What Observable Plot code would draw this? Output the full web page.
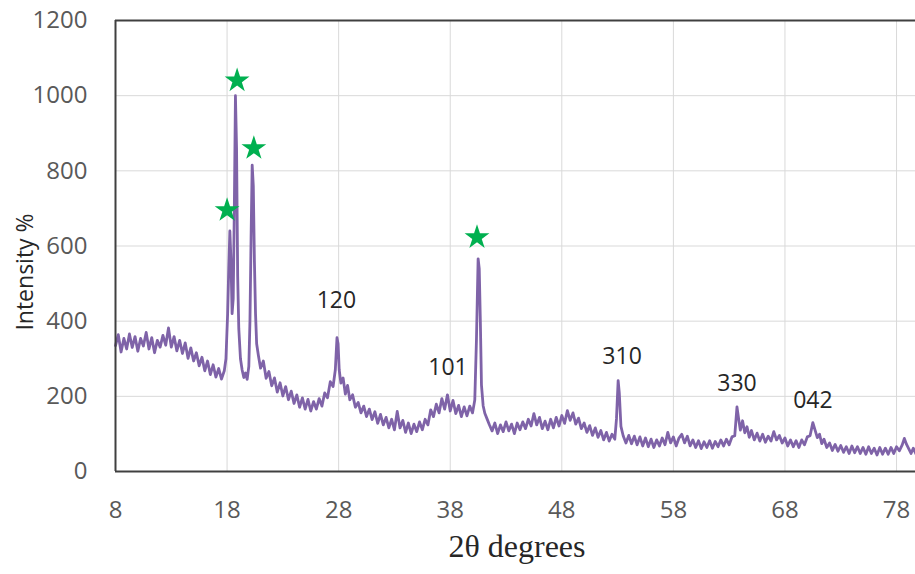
<!DOCTYPE html>
<html>
<head>
<meta charset="utf-8">
<script src="https://cdn.jsdelivr.net/npm/d3@7"></script>
<script src="https://cdn.jsdelivr.net/npm/@observablehq/plot@0.6"></script>
<style>
  html, body { margin: 0; padding: 0; background: #fff; }
  #chart svg { display: block; }
</style>
</head>
<body>
<div id="chart"></div>
<script>
// ---- data (2θ in degrees, intensity) ----
const patternA = [
  [8.00,335],[8.25,364],[8.5,318],[8.75,354],[9.0,326],[9.25,366],[9.5,330],[9.75,359],
  [10.0,320],[10.25,354],[10.5,334],[10.75,370],[11.0,326],[11.25,356],[11.5,316],[11.75,349],
  [12.0,331],[12.25,362],[12.5,336],[12.75,382],[13.0,331],[13.25,359],[13.5,321],[13.75,349],
  [14.0,314],[14.25,342],[14.5,301],[14.75,329],[15.0,294],[15.25,316],[15.5,281],[15.75,304],
  [16.0,268],[16.25,294],[16.5,258],[16.75,284],[17.0,251],[17.25,274],[17.5,246],[17.75,268]
];
const patternB = [
  [17.9,300],[18.05,420],[18.15,540],[18.25,640],[18.35,560],[18.45,420],[18.55,460],[18.65,700],
  [18.75,1000],[18.85,860],[18.95,520],[19.05,380],[19.2,300],[19.35,270],[19.5,250],[19.65,262],
  [19.8,245],[19.95,280],[20.05,400],[20.15,620],[20.25,815],[20.35,760],[20.45,560],[20.55,420],
  [20.65,340],[20.8,310],[21.0,275],[21.25,294],[21.5,248],[21.75,266],[22.0,228],[22.25,249],
  [22.5,211],[22.75,236],[23.0,201],[23.25,226],[23.5,191],[23.75,214],[24.0,181],[24.25,204],
  [24.5,171],[24.75,196],[25.0,166],[25.25,192],[25.5,161],[25.75,186],[26.0,166],[26.25,194],
  [26.5,174],[26.75,209],[27.0,196],[27.25,239],[27.5,226],[27.7,270],[27.85,356],[27.95,340],
  [28.05,270],[28.2,235],[28.4,249],[28.6,206],[28.8,229],[29.0,191],[29.25,204],[29.5,171],
  [29.75,184],[30.0,156],[30.25,174],[30.5,146],[30.75,166],[31.0,138],[31.25,159],[31.5,128],
  [31.75,152],[32.0,124],[32.25,144],[32.5,116],[32.75,139],[33.0,111],[33.25,160],[33.5,116],
  [33.75,136],[34.0,104],[34.25,129],[34.5,101],[34.75,126],[35.0,106],[35.25,132],[35.5,111]
];
const patternC = [
  [35.75,139],[36.0,124],[36.25,164],[36.5,146],[36.75,179],[37.0,156],[37.25,194],[37.5,166],
  [37.75,204],[38.0,161],[38.25,189],[38.5,154],[38.75,176],[39.0,146],[39.25,172],[39.5,148],
  [39.75,174],[40.0,156],[40.2,190],[40.35,350],[40.5,566],[40.6,540],[40.7,400],[40.8,230],
  [40.95,175],[41.1,155],[41.3,140],[41.5,125],[41.75,108],[42.0,129],[42.25,101],[42.5,124],
  [42.75,106],[43.0,132],[43.25,108],[43.5,126],[43.75,101],[44.0,129],[44.25,111],[44.5,132],
  [44.75,114],[45.0,139],[45.25,121],[45.5,154],[45.75,124],[46.0,144],[46.25,114],[46.5,134],
  [46.75,111],[47.0,139],[47.25,116],[47.5,144],[47.75,121],[48.0,149],[48.25,128],[48.5,162],
  [48.75,136],[49.0,156],[49.25,126],[49.5,142],[49.75,114],[50.0,129],[50.25,104],[50.5,122],
  [50.75,96],[51.0,116],[51.25,91],[51.5,109],[51.75,84],[52.0,104],[52.25,81],[52.5,99],
  [52.75,86],[52.9,140],[53.05,242],[53.15,210],[53.3,120],[53.5,95],[53.75,76],[54.0,96],
  [54.25,74],[54.5,94],[54.75,71],[55.0,92],[55.25,68],[55.5,89],[55.75,66],[56.0,86]
];
const patternD = [
  [56.25,64],[56.5,84],[56.75,68],[57.0,89],[57.25,71],[57.5,104],[57.75,76],[58.0,92],
  [58.25,68],[58.5,89],[58.75,99],[59.0,76],[59.25,94],[59.5,68],[59.75,84],[60.0,64],
  [60.25,82],[60.5,61],[60.75,79],[61.0,64],[61.25,82],[61.5,62],[61.75,80],[62.0,66],
  [62.25,84],[62.5,68],[62.75,86],[63.0,71],[63.25,92],[63.5,95],[63.7,172],[63.85,140],
  [64.0,110],[64.2,135],[64.4,103],[64.6,119],[64.8,91],[65.0,109],[65.25,84],[65.5,102],
  [65.75,81],[66.0,99],[66.25,78],[66.5,94],[66.75,81],[67.0,106],[67.25,84],[67.5,96],
  [67.75,76],[68.0,89],[68.25,68],[68.5,84],[68.75,66],[69.0,82],[69.25,64],[69.5,84],
  [69.75,71],[70.0,92],[70.25,95],[70.5,130],[70.7,110],[70.9,90],[71.1,99],[71.3,74],
  [71.5,86],[71.75,64],[72.0,76],[72.25,56],[72.5,72],[72.75,54],[73.0,69],[73.25,51],
  [73.5,66],[73.75,48],[74.0,68],[74.25,50],[74.5,66],[74.75,48],[75.0,64],[75.25,46],
  [75.5,66],[75.75,48],[76.0,62],[76.25,44],[76.5,64],[76.75,46],[77.0,62],[77.25,46],
  [77.5,64],[77.75,48],[78.0,66],[78.25,55],[78.5,70],[78.7,88],[78.9,72],[79.1,60],
  [79.3,48],[79.5,62],[79.75,46],[80.0,55]
];

const starAngle = [18.0, 18.9, 20.4, 40.4];
const starIntensity = [695, 1040, 860, 623];

const hklLabels = ["120", "101", "310", "330", "042"];
const hklAngle = [27.8, 37.8, 53.4, 63.7, 70.5];
const hklIntensity = [455, 277, 306, 234, 189];

const xTicks = [8, 18, 28, 38, 48, 58, 68, 78];
const yTicks = [0, 200, 400, 600, 800, 1000, 1200];

const xTitle = "2θ degrees";
const yTitle = "Intensity %";

// ---- build tables ----
const pattern = [...patternA, ...patternB, ...patternC, ...patternD].map(([a, v]) => ({angle: a, intensity: v}));
const stars = starAngle.map((a, i) => ({angle: a, intensity: starIntensity[i]}));
const hkl = hklLabels.map((t, i) => ({label: t, angle: hklAngle[i], intensity: hklIntensity[i]}));

const tickFont = "'Open Sans', sans-serif";

const chart = Plot.plot({
  width: 915,
  height: 574,
  marginLeft: 115,
  marginRight: 0,
  marginTop: 20,
  marginBottom: 103,
  style: {background: "#fff", overflow: "visible"},
  x: {domain: [8, 79.7]},
  y: {domain: [0, 1200]},
  marks: [
    Plot.gridX(xTicks, {stroke: "#d9d9d9", strokeOpacity: 1, strokeWidth: 1}),
    Plot.gridY(yTicks, {stroke: "#d9d9d9", strokeOpacity: 1, strokeWidth: 1}),
    Plot.axisX(xTicks, {tickSize: 0, tickPadding: 29, fontSize: 24, fontFamily: tickFont, fill: "#595959", label: null, tickFormat: d => String(d)}),
    Plot.axisY(yTicks, {tickSize: 0, tickPadding: 28, fontSize: 24, fontFamily: tickFont, fill: "#595959", label: null, tickFormat: d => String(d)}),
    Plot.line(pattern, {x: "angle", y: "intensity", stroke: "#7f63a8", strokeWidth: 2.8, strokeLinejoin: "round"}),
    Plot.dot(stars, {x: "angle", y: "intensity", symbol: "star", r: 7.8, fill: "#00b050", stroke: "none"}),
    Plot.text(hkl, {x: "angle", y: "intensity", text: "label", fontSize: 23, fontFamily: tickFont, fill: "#262626"}),
    Plot.ruleY([0], {stroke: "#404040", strokeWidth: 2}),
    Plot.ruleY([1200], {stroke: "#404040", strokeWidth: 2}),
    Plot.ruleX([8], {stroke: "#404040", strokeWidth: 2})
  ]
});

document.getElementById("chart").appendChild(chart);

// axis titles
const svg = d3.select(chart);
svg.append("text")
  .attr("x", 517).attr("y", 550)
  .attr("text-anchor", "middle").attr("dominant-baseline", "middle")
  .attr("font-family", "'Liberation Serif', 'DejaVu Serif', serif")
  .attr("font-size", 32).attr("fill", "#262626")
  .text(xTitle);
svg.append("text")
  .attr("transform", "translate(33,272) rotate(-90)")
  .attr("text-anchor", "middle")
  .attr("font-family", tickFont)
  .attr("font-size", 23).attr("fill", "#262626")
  .text(yTitle);
</script>
</body>
</html>
